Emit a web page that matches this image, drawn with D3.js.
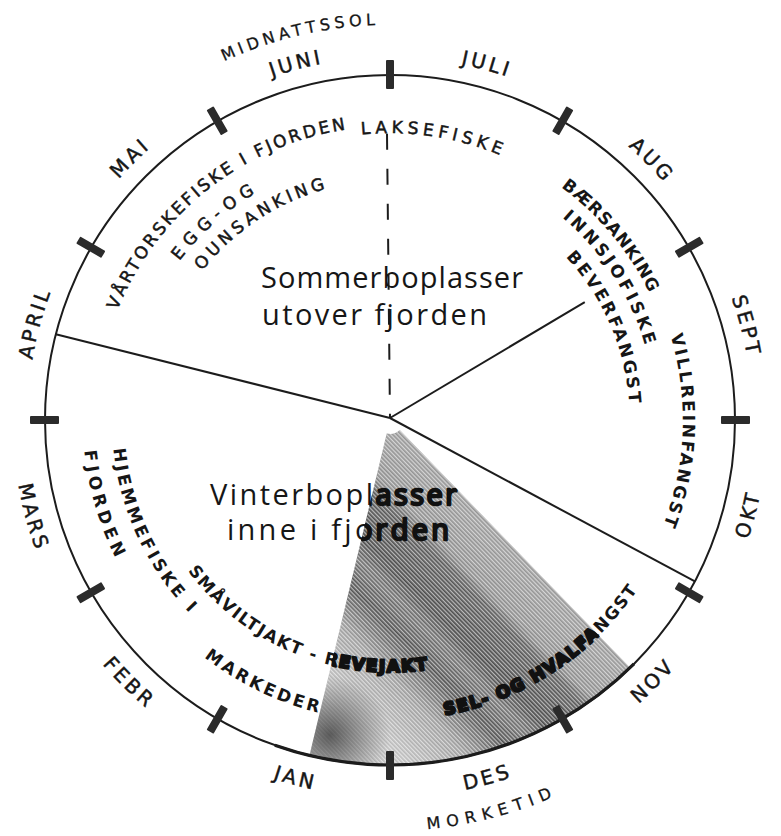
<!DOCTYPE html>
<html><head><meta charset="utf-8">
<script src="https://cdn.jsdelivr.net/npm/d3@7"></script>
<style>html,body{margin:0;padding:0;background:#fff}</style>
</head><body>
<svg id="chart" width="781" height="836"></svg>
<script>
// ---------- data ----------
// months counted from 1 July at the top, running clockwise
const months = ["JULI","AUG","SEPT","OKT","NOV","DES","JAN","FEBR","MARS","APRIL","MAI","JUNI"];
const monthTicks = d3.range(12);

// season lines from the hub (month position, reach as share of radius, dashed?)
const seasonLineAt     = [9.48, 3.93, 1.96, -0.02];
const seasonLineReach  = [1.0, 1.0, 0.66, 0.83];
const seasonLineDashed = [false, false, false, true];

// dark period (shaded wedge) in months
const darkFrom = 4.53, darkTo = 6.45;

// activities: name, first letter, last letter (month positions; start > end = read anticlockwise)
const activityNames = ["VÅRTORSKEFISKE I FJORDEN","EGG-OG","OUNSANKING","LAKSEFISKE",
  "BÆRSANKING","INNSJOFISKE","BEVERFANGST","VILLREINFANGST",
  "SEL- OG HVALFANGST","SMÅVILTJAKT - REVEJAKT","MARKEDER","HJEMMEFISKE I","FJORDEN"];
const activityStart = [9.77, 10.28, 10.33, -0.15, 1.25, 1.39, 1.62, 2.48, 5.61, 7.73, 7.23, 8.76, 8.77];
const activityEnd   = [11.67,10.93, 11.43, 0.71, 2.09, 2.41, 2.82, 3.66, 4.19, 5.76, 6.50, 7.58, 8.15];

const outerNames = ["MIDNATTSSOL","MORKETID"];
const outerStart = [11.20, 5.80];
const outerEnd   = [11.90, 5.25];

const centerLines = ["Sommerboplasser","utover fjorden","Vinterboplasser","inne i fjorden"];

// ---------- layout ----------
const cx = 390, cy = 420, R = 345;
const activityRadius = [300, 270, 246, 293, 295, 272, 246, 299, 294, 246, 295, 272, 301];
const activityBold   = [false,false,false,false,true,true,true,true,true,true,true,true,true];
const activityHeavy  = [8, 9, 10];       // letters lying on the dark screen
const centerHeavy    = [2, 3];
const outerRadius = [401, 405];
const centerPos = [[261,288,262],[262,325,225],[210,505,247],[227,540,222]];

const svg = d3.select("#chart");
const defs = svg.append("defs");
const angle = d3.scaleLinear().domain([0, 12]).range([0, 360]);
const rad = d => d * Math.PI / 180;
const pt = (deg, r) => [cx + r * Math.sin(rad(deg)), cy - r * Math.cos(rad(deg))];
function arcPath(d0, d1, r) {
  const p0 = pt(d0, r), p1 = pt(d1, r);
  const sweep = d1 > d0 ? 1 : 0, large = Math.abs(d1 - d0) > 180 ? 1 : 0;
  return `M${p0[0]},${p0[1]}A${r},${r} 0 ${large} ${sweep} ${p1[0]},${p1[1]}`;
}

// ---------- shading (dark period) ----------
const n = [-0.717, 0.697];
const grad = defs.append("linearGradient").attr("id", "shadeGrad")
  .attr("gradientUnits", "userSpaceOnUse")
  .attr("x1", cx).attr("y1", cy).attr("x2", cx + 296 * n[0]).attr("y2", cy + 296 * n[1]);
[[0, "#979797"], [0.12, "#8c8c8c"], [0.16, "#5a5a5a"], [0.3, "#4a4a4a"], [0.36, "#707070"],
 [0.44, "#505050"], [0.56, "#9c9c9c"], [0.72, "#bdbdbd"], [1, "#cfcfcf"]]
  .forEach(s => grad.append("stop").attr("offset", s[0]).attr("stop-color", s[1]));
const patch = defs.append("radialGradient").attr("id", "patch").attr("gradientUnits", "userSpaceOnUse")
  .attr("cx", 330).attr("cy", 735).attr("r", 60);
patch.append("stop").attr("offset", 0).attr("stop-color", "#333").attr("stop-opacity", 0.75);
patch.append("stop").attr("offset", 1).attr("stop-color", "#333").attr("stop-opacity", 0);
const hatch = defs.append("pattern").attr("id", "hatch").attr("patternUnits", "userSpaceOnUse")
  .attr("width", 10).attr("height", 3).attr("patternTransform", "rotate(45.8)");
hatch.append("rect").attr("width", 10).attr("height", 1.3).attr("fill", "#fff");

const wedge = d3.arc().innerRadius(14).outerRadius(R)
  .startAngle(rad(angle(darkFrom))).endAngle(rad(angle(darkTo)));
defs.append("clipPath").attr("id", "shadeClip").append("path")
  .attr("d", wedge()).attr("transform", `translate(${cx},${cy})`);
const shade = svg.append("g").attr("transform", `translate(${cx},${cy})`);
shade.append("path").attr("d", wedge()).attr("fill", "url(#shadeGrad)");
svg.append("rect").attr("x", 260).attr("y", 660).attr("width", 140).attr("height", 110)
  .attr("fill", "url(#patch)").attr("clip-path", "url(#shadeClip)");
shade.append("path").attr("d", wedge()).attr("fill", "url(#hatch)").attr("opacity", 0.6);

// ---------- circle, ticks ----------
svg.append("circle").attr("cx", cx).attr("cy", cy).attr("r", R)
  .attr("fill", "none").attr("stroke", "#1c1c1c").attr("stroke-width", 2);
svg.append("path").attr("d", arcPath(angle(4.5), angle(6.65), R))
  .attr("fill", "none").attr("stroke", "#1c1c1c").attr("stroke-width", 3.2);
svg.append("g").selectAll("rect").data(monthTicks).join("rect")
  .attr("transform", d => { const p = pt(angle(d), R); return `translate(${p[0]},${p[1]}) rotate(${angle(d)})`; })
  .attr("x", -4).attr("y", -15).attr("width", 8).attr("height", 29).attr("rx", 1)
  .attr("fill", "#2b2b2b");

// ---------- season lines ----------
svg.append("g").selectAll("line").data(seasonLineAt).join("line")
  .attr("x1", (d, i) => pt(angle(d), R * seasonLineReach[i])[0])
  .attr("y1", (d, i) => pt(angle(d), R * seasonLineReach[i])[1])
  .attr("x2", cx).attr("y2", cy - 2)
  .attr("stroke", "#1c1c1c").attr("stroke-width", 2)
  .attr("stroke-dasharray", (d, i) => seasonLineDashed[i] ? "16,19" : null);

// ---------- text ----------
let pid = 0;
function arcText(g, str, m0, m1, rc, fs, weight, fit, ls) {
  const d0 = angle(m0), d1 = angle(m1);
  const flip = d1 < d0, dir = flip ? -1 : 1;
  const cap = fs * 0.73;
  const rb = flip ? rc + cap / 2 : rc - cap / 2;
  const half = (0.36 * fs) / rb * 180 / Math.PI;
  const a0 = d0 - dir * half, a1 = d1 + dir * half;
  const target = rb * rad(Math.abs(a1 - a0));
  const id = "tp" + (pid++);
  defs.append("path").attr("id", id).attr("d", arcPath(a0, a1 + dir * 60, rb));
  const t = g.append("text").attr("font-family", "DejaVu Sans, sans-serif")
    .attr("font-size", fs).attr("font-weight", weight);
  t.append("textPath").attr("href", "#" + id).text(str);
  if (fit) {
    const nat = t.node().getComputedTextLength();
    const k = [...str].length;
    t.attr("letter-spacing", (target - nat) / (k - 1));
  } else t.attr("letter-spacing", ls);
  return t;
}
function monthLabel(g, str, mid, rc, fs, ls) {
  const dc = angle(mid);
  const flip = dc > 90 && dc < 270, dir = flip ? -1 : 1;
  const cap = fs * 0.73;
  const rb = flip ? rc + cap / 2 : rc - cap / 2;
  const id = "tp" + (pid++);
  defs.append("path").attr("id", id).attr("d", arcPath(dc - dir * 40, dc + dir * 40, rb));
  g.append("text").attr("font-family", "DejaVu Sans, sans-serif").attr("font-size", fs)
    .attr("letter-spacing", ls).attr("dx", ls / 2)
    .attr("stroke", "#161616").attr("stroke-width", 0.45)
    .append("textPath").attr("href", "#" + id).attr("startOffset", "50%")
    .attr("text-anchor", "middle").text(str);
}

const txt = svg.append("g").attr("fill", "#161616");
months.forEach((m, i) => monthLabel(txt, m, i + 0.5, 370, 20, 3.2));
outerNames.forEach((s, i) => arcText(txt, s, outerStart[i], outerEnd[i], outerRadius[i], 16, "normal", true)
  .attr("stroke", "#161616").attr("stroke-width", 0.3));
activityNames.forEach((s, i) => {
  const t = arcText(txt, s, activityStart[i], activityEnd[i], activityRadius[i],
    17, activityBold[i] ? "bold" : "normal", true).attr("id", "act" + i);
  if (!activityBold[i]) t.attr("stroke", "#161616").attr("stroke-width", 0.5);
});
centerLines.forEach((s, i) => {
  txt.append("text").attr("id", "ctr" + i).attr("x", centerPos[i][0]).attr("y", centerPos[i][1])
    .attr("font-family", "Open Sans, sans-serif").attr("font-size", 29)
    .attr("textLength", centerPos[i][2]).attr("lengthAdjust", "spacing").text(s);
});

// heavy smeared look where lettering lies on the dark screen
const heavyG = svg.append("g").attr("clip-path", "url(#shadeClip)")
  .attr("fill", "#111").attr("stroke", "#111").attr("stroke-width", 2.4).attr("stroke-linejoin", "round");
activityHeavy.forEach(i => heavyG.append("use").attr("href", "#act" + i));
centerHeavy.forEach(i => heavyG.append("use").attr("href", "#ctr" + i));
</script>
</body></html>
